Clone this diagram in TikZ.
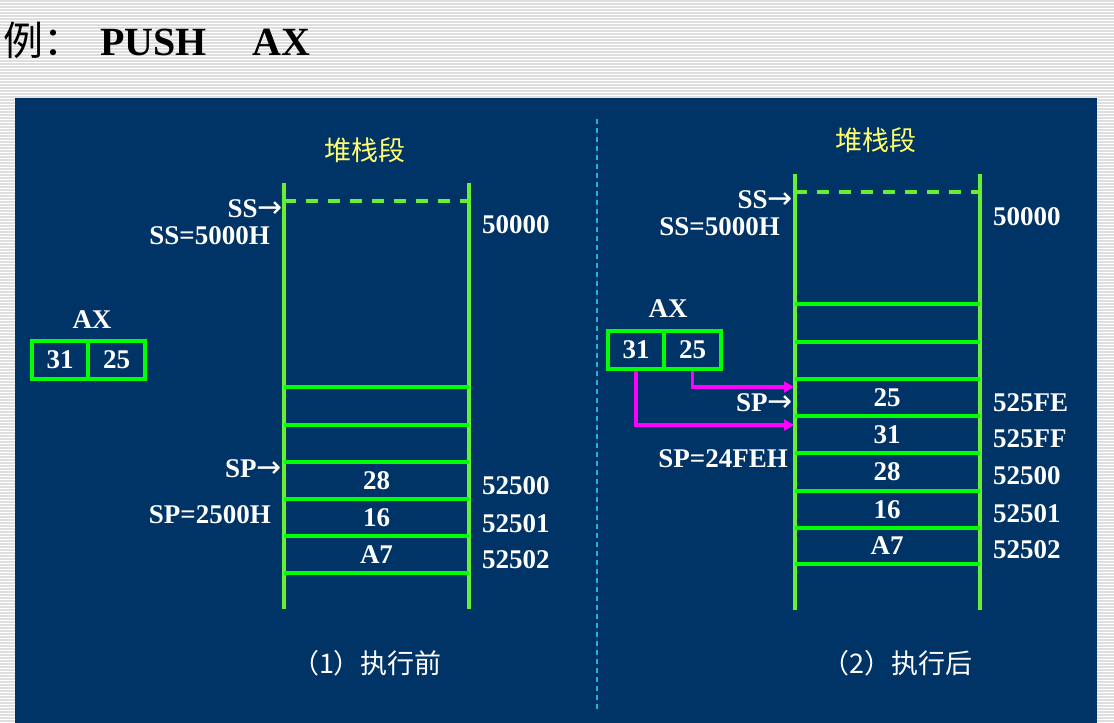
\documentclass[tikz,border=0pt]{standalone}
\usepackage{fontspec}
\setmainfont{Liberation Serif}
\newfontfamily\cjk{Noto Sans CJK SC}
\newfontfamily\arrfont{DejaVu Sans}
\usetikzlibrary{arrows.meta}
\definecolor{panel}{RGB}{0,51,102}
\definecolor{hgreen}{RGB}{0,255,0}
\definecolor{vgreen}{RGB}{102,240,51}
\definecolor{mag}{RGB}{255,0,255}
\definecolor{cyanline}{RGB}{30,180,210}
\definecolor{ylw}{RGB}{255,255,110}
\definecolor{stripe}{RGB}{222,222,222}
\newcommand{\rarr}{{\arrfont\mdseries\fontsize{30}{30}\selectfont →}}
\tikzset{
 lbl/.style={text=white, font=\bfseries\fontsize{27}{27}\selectfont, inner sep=0pt},
 addr/.style={lbl, anchor=base west},
 rlbl/.style={lbl, anchor=base east},
 val/.style={lbl, anchor=center},
 seg/.style={text=ylw, font=\cjk\fontsize{27}{27}\selectfont, inner sep=0pt},
 captext/.style={text=white, font=\cjk\fontsize{27}{27}\selectfont, inner sep=0pt},
 wall/.style={draw=vgreen, line width=3.3pt},
 rung/.style={draw=hgreen, line width=3.3pt},
 topdash/.style={draw=vgreen, line width=3.3pt, dash pattern=on 12pt off 10pt},
 regcell/.style={draw=hgreen, line width=3.3pt, minimum height=38pt, inner sep=0pt, text=white, font=\bfseries\fontsize{27}{27}\selectfont},
 push/.style={draw=mag, line width=3.3pt, -{Triangle[length=10pt,width=11pt]}},
}
\begin{document}
\begin{tikzpicture}[x=1pt,y=-1pt]
\useasboundingbox (0,0) rectangle (1114,723);
\fill[white] (0,0) rectangle (1114,723);
\foreach \k in {0,...,240} \draw[stripe, line width=1.3pt] (0,\k*3+1) -- (1114,\k*3+1);
\fill[panel] (15,98) rectangle (1097,723);

% title
\node[anchor=base west, inner sep=0pt, font=\bfseries\fontsize{40}{40}\selectfont] (title) at (3,55)
  {{\cjk\mdseries 例：}\hspace{17pt}PUSH\hspace{46pt}AX};

% divider
\draw[cyanline, line width=1.5pt, dash pattern=on 5pt off 4pt] (597,119) -- (597,712);

% ===== left: before =====
\node[seg] (segL) at (365,150) {堆栈段};
\draw[wall] (284,183) -- (284,609);
\draw[wall] (469,183) -- (469,609);
\draw[topdash] (284,201) -- (469,201);
\foreach \y in {387,425,462,499,536,573} \draw[rung] (284,\y) -- (469,\y);
\node[val] (lv28) at (376.5,480.5) {28};
\node[val] (lv16) at (376.5,517.5) {16};
\node[val] (lvA7) at (376.5,554.5) {A7};
\node[addr] (la0) at (482,233) {50000};
\node[addr] (la1) at (482,494) {52500};
\node[addr] (la2) at (482,532) {52501};
\node[addr] (la3) at (482,568) {52502};
\node[rlbl] (lss) at (283,217) {SS\rarr};
\node[rlbl] (lssv) at (270,244) {SS=5000H};
\node[rlbl] (lsp) at (282,477) {SP\rarr};
\node[rlbl] (lspv) at (271,523) {SP=2500H};
\node[lbl, anchor=base] (lax) at (92,328) {AX};
\node[regcell, minimum width=56pt] (lax1) at (60,360) {31};
\node[regcell, minimum width=57pt] (lax2) at (116.5,360) {25};
\node[captext] (capL) at (367,663) {（1）执行前};

% ===== right: after =====
\node[seg] (segR) at (876,140) {堆栈段};
\draw[wall] (795,174) -- (795,610);
\draw[wall] (980,174) -- (980,610);
\draw[topdash] (795,192) -- (980,192);
\foreach \y in {304,342,379,416,453,491,528,564} \draw[rung] (795,\y) -- (980,\y);
\node[val] (rv25) at (887,397.5) {25};
\node[val] (rv31) at (887,434.5) {31};
\node[val] (rv28) at (887,472) {28};
\node[val] (rv16) at (887,509.5) {16};
\node[val] (rvA7) at (887,546) {A7};
\node[addr] (ra0) at (993,225) {50000};
\node[addr] (ra1) at (993,411) {525FE};
\node[addr] (ra2) at (993,447) {525FF};
\node[addr] (ra3) at (993,484) {52500};
\node[addr] (ra4) at (993,522) {52501};
\node[addr] (ra5) at (993,558) {52502};
\node[rlbl] (rss) at (793,208) {SS\rarr};
\node[rlbl] (rssv) at (780,235) {SS=5000H};
\node[rlbl] (rsp) at (793,411) {SP\rarr};
\node[rlbl] (rspv) at (788,467) {SP=24FEH};
\node[lbl, anchor=base] (rax) at (668,317) {AX};
\node[regcell, minimum width=56pt] (rax1) at (636,350) {31};
\node[regcell, minimum width=57pt] (rax2) at (692.5,350) {25};
\node[captext] (capR) at (897,663) {（2）执行后};

\coordinate (t25) at (794,387);
\coordinate (t31) at (794,425);
\draw[push] (rax2.south) |- (t25);
\draw[push] (rax1.south) |- (t31);
\end{tikzpicture}
\end{document}
